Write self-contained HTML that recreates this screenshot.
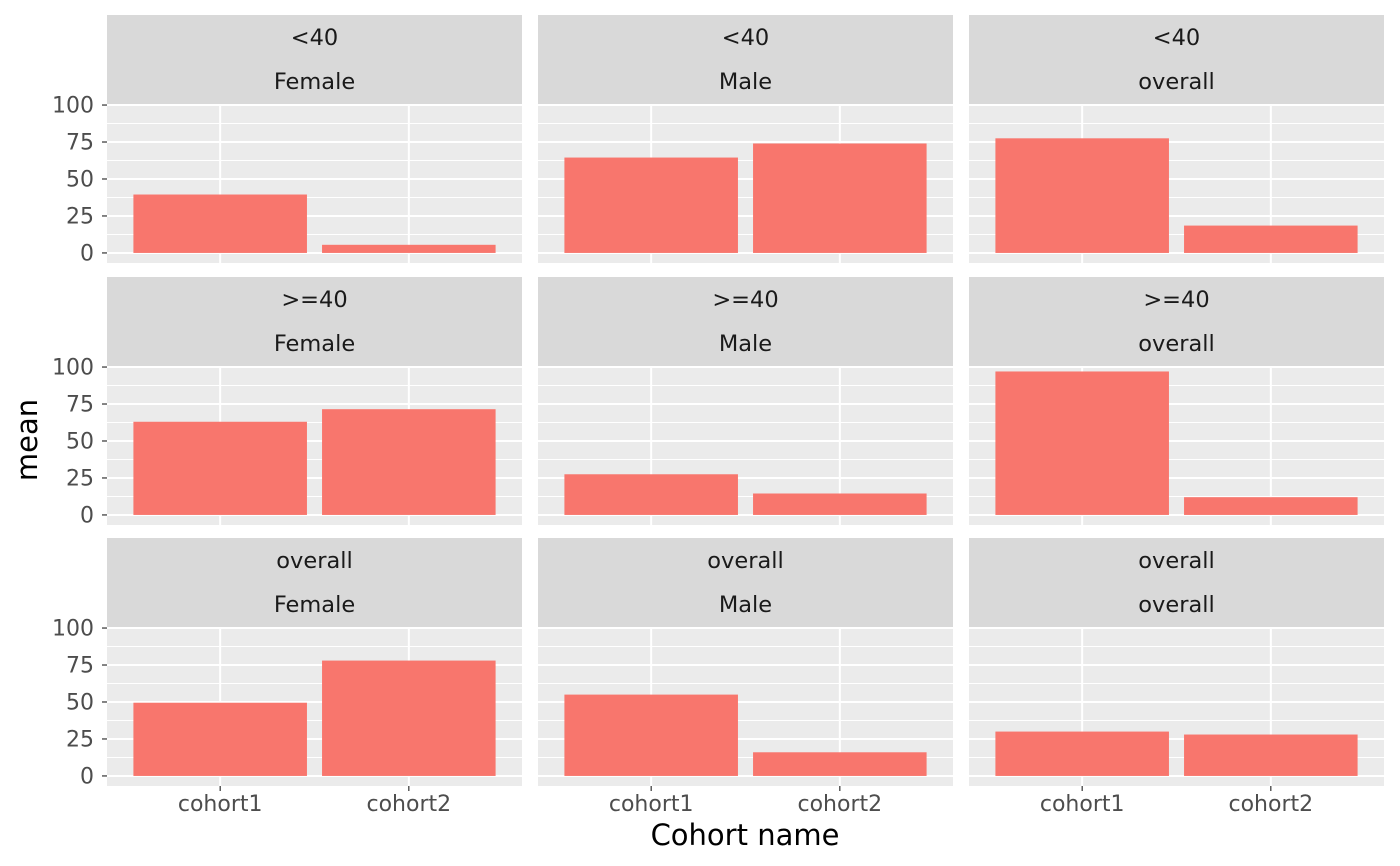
<!DOCTYPE html>
<html><head><meta charset="utf-8"><style>
html,body{margin:0;padding:0;background:#fff;}
svg{display:block;font-family:"DejaVu Sans","Liberation Sans",sans-serif;}
</style></head><body>
<svg id="chart" width="1400" height="866" viewBox="0 0 1400 866" xmlns="http://www.w3.org/2000/svg"></svg>
<script>
const ageGroups = ["<40", ">=40", "overall"];
const sexes = ["Female", "Male", "overall"];
const cohorts = ["cohort1", "cohort2"];
const cohort1Values = [[39.5, 64.5, 77.5],[63, 27.5, 97],[49.5, 55, 30]];
const cohort2Values = [[5.5, 74, 18.5],[71.5, 14.5, 12],[78, 16, 28]];
const yTicks = [0, 25, 50, 75, 100];
const yTickLabels = ["0", "25", "50", "75", "100"];

const svg = document.getElementById('chart');
const NS = "http://www.w3.org/2000/svg";
function mk(tag, attrs, parent){const e=document.createElementNS(NS,tag);for(const k in attrs)e.setAttribute(k,attrs[k]);(parent||svg).appendChild(e);return e;}

const colX = [107, 538, 969], panelW = 415;
const rowTop = [15, 277, 538];
const stripH = 89, panelH = 159;
const yMin = -6.8, yMax = 100.7;
const xMin = 0.4, xMax = 2.6;
const FS = 22.5, TFS = 22;

for (let r=0;r<3;r++){
  for (let c=0;c<3;c++){
    const x0 = colX[c], sTop = rowTop[r], pTop = sTop + stripH;
    const g = mk('g', {});
    
    
    const strip = mk('rect', {x:x0, y:sTop, width:panelW, height:stripH, fill:'#D9D9D9'}, g);
    
    
    const t1 = mk('text', {x:x0+panelW/2, y:sTop+30, 'text-anchor':'middle', 'font-size':FS, fill:'#1A1A1A'}, g);
    t1.textContent = ageGroups[r];
    
    
    const t2 = mk('text', {x:x0+panelW/2, y:sTop+74, 'text-anchor':'middle', 'font-size':FS, fill:'#1A1A1A'}, g);
    t2.textContent = sexes[c];
    
    
    const bg = mk('rect', {x:x0, y:pTop, width:panelW, height:panelH, fill:'#EBEBEB'}, g);
    
    
    const ys = v => pTop + panelH - (v - yMin) / (yMax - yMin) * panelH;
    const xs = v => x0 + (v - xMin) / (xMax - xMin) * panelW;
    for (let i=0;i<yTicks.length-1;i++){
      const m = (yTicks[i]+yTicks[i+1])/2;
      mk('line', {x1:x0, x2:x0+panelW, y1:ys(m), y2:ys(m), stroke:'#fff', 'stroke-width':1}, g);
    }
    yTicks.forEach(v=>{
      mk('line', {x1:x0, x2:x0+panelW, y1:ys(v), y2:ys(v), stroke:'#fff', 'stroke-width':2}, g);
    });
    cohorts.forEach((cn,i)=>{
      mk('line', {x1:xs(i+1), x2:xs(i+1), y1:pTop, y2:pTop+panelH, stroke:'#fff', 'stroke-width':2}, g);
    });
    const vals = [cohort1Values[r][c], cohort2Values[r][c]];
    vals.forEach((v,i)=>{
      const b = mk('rect', {x:xs(i+1-0.46), y:ys(v), width:xs(i+1+0.46)-xs(i+1-0.46), height:ys(0)-ys(v), fill:'#F8766D'}, g);
      
      
    });
    if (c===0){
      yTicks.forEach((v,i)=>{
        mk('line', {x1:x0-5, x2:x0, y1:ys(v), y2:ys(v), stroke:'#333', 'stroke-width':1.2}, g);
        const tl = mk('text', {x:x0-13, y:ys(v)+7.5, 'text-anchor':'end', 'font-size':TFS, fill:'#4D4D4D'}, g);
        tl.textContent = yTickLabels[i];
        
        
      });
    }
    if (r===2){
      cohorts.forEach((cn,i)=>{
        mk('line', {x1:xs(i+1), x2:xs(i+1), y1:pTop+panelH, y2:pTop+panelH+5, stroke:'#333', 'stroke-width':1.2}, g);
        const tl = mk('text', {x:xs(i+1), y:pTop+panelH+25, 'text-anchor':'middle', 'font-size':TFS, fill:'#4D4D4D'}, g);
        tl.textContent = cn;
        
        
      });
    }
  }
}
const xt = mk('text', {x:745, y:845, 'text-anchor':'middle', 'font-size':'29', fill:'#000'});
xt.textContent = 'Cohort name';


const yt = mk('text', {x:0, y:0, 'text-anchor':'middle', 'font-size':'29', fill:'#000', transform:'translate(37,440) rotate(-90)'});
yt.textContent = 'mean';


</script>
</body></html>
